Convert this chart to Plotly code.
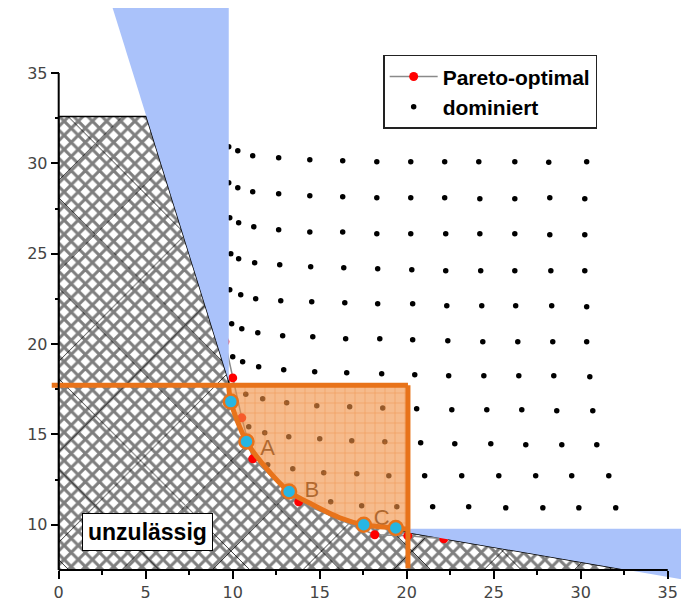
import plotly.graph_objects as go

# ---------------- data ----------------
x_ticks = [0, 5, 10, 15, 20, 25, 30, 35]
y_ticks = [10, 15, 20, 25, 30, 35]
x_minor = [2.5, 7.5, 12.5, 17.5, 22.5, 27.5, 32.5]
y_minor = [12.5, 17.5, 22.5, 27.5, 32.5]

# dominated solutions (row by row)
dom_x_rows = [
    [9.77, 10.29, 11.15, 12.64, 14.43, 16.32, 18.28, 20.23, 22.18, 24.14, 26.21, 28.16, 30.34],
    [9.77, 10.29, 11.15, 12.64, 14.43, 16.32, 18.28, 20.23, 22.18, 24.20, 26.21, 28.22, 30.23],
    [9.83, 10.34, 11.21, 12.64, 14.43, 16.32, 18.28, 20.23, 22.24, 24.20, 26.21, 28.22, 30.23],
    [9.89, 10.34, 11.26, 12.70, 14.48, 16.38, 18.33, 20.29, 22.24, 24.25, 26.21, 28.28, 30.23],
    [9.83, 10.46, 11.32, 12.76, 14.54, 16.44, 18.33, 20.34, 22.30, 24.31, 26.26, 28.33, 30.34],
    [9.94, 10.52, 11.44, 12.87, 14.60, 16.49, 18.45, 20.34, 22.36, 24.37, 26.38, 28.39, 30.34],
    [10.00, 10.57, 11.49, 12.93, 14.71, 16.55, 18.56, 20.46, 22.41, 24.43, 26.44, 28.45, 30.52],
    [10.75, 11.72, 13.10, 14.83, 16.72, 18.62, 20.57, 22.59, 24.60, 26.61, 28.62, 30.69],
    [10.92, 11.84, 13.22, 15.00, 16.84, 18.74, 20.80, 22.76, 24.83, 26.84, 28.91, 30.92],
    [12.01, 13.45, 15.23, 17.13, 18.97, 21.03, 23.16, 25.29, 27.41, 29.48, 31.61],
    [15.63, 17.41, 19.43, 21.49, 23.56, 25.69, 27.82, 29.89, 32.01],
]
dom_y_rows = [
    [30.92, 30.70, 30.42, 30.31, 30.20, 30.14, 30.09, 30.09, 30.09, 30.09, 30.09, 30.06, 30.09],
    [28.93, 28.65, 28.43, 28.32, 28.21, 28.15, 28.10, 28.10, 28.10, 28.04, 28.04, 28.10, 28.04],
    [26.99, 26.71, 26.49, 26.33, 26.21, 26.21, 26.10, 26.10, 26.10, 26.10, 26.10, 26.05, 26.05],
    [25.00, 24.72, 24.50, 24.39, 24.28, 24.22, 24.17, 24.11, 24.06, 24.06, 24.06, 24.06, 24.06],
    [23.01, 22.73, 22.51, 22.40, 22.34, 22.29, 22.23, 22.23, 22.12, 22.12, 22.12, 22.12, 22.06],
    [21.12, 20.85, 20.63, 20.46, 20.40, 20.29, 20.29, 20.24, 20.18, 20.13, 20.13, 20.13, 20.13],
    [19.30, 19.02, 18.74, 18.58, 18.47, 18.41, 18.36, 18.30, 18.25, 18.25, 18.25, 18.25, 18.19],
    [17.22, 16.97, 16.75, 16.59, 16.53, 16.47, 16.42, 16.36, 16.36, 16.36, 16.31, 16.31],
    [15.42, 15.09, 14.87, 14.76, 14.65, 14.59, 14.54, 14.48, 14.48, 14.43, 14.43, 14.43],
    [13.32, 13.10, 12.88, 12.82, 12.71, 12.71, 12.71, 12.71, 12.71, 12.71, 12.71],
    [11.27, 11.05, 11.00, 11.00, 11.00, 10.94, 10.94, 10.94, 10.94],
]

# Pareto-optimal solutions
pareto_x = [9.55, 10.00, 10.52, 11.15, 13.79, 18.16, 20.06, 22.13]
pareto_y = [20.13, 18.13, 15.92, 13.65, 11.27, 9.45, 9.39, 9.23]

# approximated front (orange curve) and its support points (cyan)
front_x = [9.77, 9.89, 10.79, 11.67, 13.24, 14.60, 16.15, 17.53, 19.37, 20.07]
front_y = [17.72, 16.82, 14.61, 13.43, 11.84, 11.11, 10.39, 10.00, 9.82, 9.75]
support_x = [9.89, 10.79, 13.24, 17.53, 19.37]
support_y = [16.82, 14.61, 11.84, 10.00, 9.82]

# reference (nadir) point of the orange box
ref_x = 20.07
ref_y = 17.72

# infeasible region outline
infeas_x = [0, 0, 5.04, 9.77] + front_x[1:-1] + [20.17, 22.13, 32.65]
infeas_y = [7.5, 32.6, 32.6, 17.96] + front_y[1:-1] + [9.56, 9.23, 7.5]

# blue wedges
wedge1_x = [3.10, 9.77, 9.77]
wedge1_y = [38.6, 38.6, 17.96]
wedge2_x = [20.20, 35.76, 35.76, 20.17]
wedge2_y = [9.78, 9.78, 6.99, 9.56]

# point labels
lab_text = ["A", "B", "C"]
lab_x = [12.01, 14.54, 18.56]
lab_y = [14.15, 11.83, 10.28]

# ---------------- figure ----------------
ORANGE = "#E8731A"
BLUE = "#AAC2FA"
CYAN = "#27B6E3"
FONT = "Liberation Sans"
TICKFONT = "DejaVu Sans"

fig = go.Figure()

# dominated points
dx = [v for r in dom_x_rows for v in r]
dy = [v for r in dom_y_rows for v in r]
fig.add_trace(go.Scatter(
    x=dx, y=dy, mode="markers", name="dominiert",
    marker=dict(size=5.5, color="black"),
    legendrank=2))

# infeasible hatched region (fine cross hatch)
fig.add_trace(go.Scatter(
    x=infeas_x, y=infeas_y, mode="lines", fill="toself",
    fillcolor="white", line=dict(color="black", width=1.5),
    fillpattern=dict(shape="x", size=10, solidity=0.52, fgcolor="black",
                     bgcolor="white"),
    showlegend=False, hoverinfo="skip"))
# coarse darker diagonals seen over the hatch
fig.add_trace(go.Scatter(
    x=infeas_x, y=infeas_y, mode="lines", fill="toself",
    fillcolor="rgba(0,0,0,0)", line=dict(width=0),
    fillpattern=dict(shape="x", size=64, solidity=0.03, fgcolor="black",
                     fgopacity=0.8, bgcolor="rgba(0,0,0,0)"),
    showlegend=False, hoverinfo="skip"))

# Pareto-optimal
fig.add_trace(go.Scatter(
    x=pareto_x, y=pareto_y, mode="lines+markers", name="Pareto-optimal",
    line=dict(color="#8a8a8a", width=1.5),
    marker=dict(size=9, color="#FF0000"),
    legendrank=1))

# blue wedges
for wx, wy in [(wedge1_x, wedge1_y), (wedge2_x, wedge2_y)]:
    fig.add_trace(go.Scatter(
        x=wx, y=wy, mode="lines", fill="toself", fillcolor=BLUE,
        line=dict(width=0, color=BLUE), showlegend=False, hoverinfo="skip"))

# labels (under the translucent box)
fig.add_trace(go.Scatter(
    x=lab_x, y=lab_y, mode="text", text=lab_text,
    textfont=dict(family=FONT, size=22, color="#3a2410"),
    showlegend=False, hoverinfo="skip"))

# orange box
box_x = [front_x[0], ref_x, ref_x] + front_x[::-1][1:]
box_y = [ref_y, ref_y, front_y[-1]] + front_y[::-1][1:]
fig.add_trace(go.Scatter(
    x=box_x, y=box_y, mode="lines", fill="toself",
    fillcolor="rgba(240,145,70,0.62)", line=dict(width=0),
    fillpattern=dict(shape="+", size=10, solidity=0.1, fgcolor=ORANGE,
                     fillmode="overlay"),
    showlegend=False, hoverinfo="skip"))

# orange curve
fig.add_trace(go.Scatter(
    x=front_x, y=front_y, mode="lines", line=dict(color=ORANGE, width=5, shape="spline"),
    showlegend=False, hoverinfo="skip"))
fig.add_trace(go.Scatter(
    x=support_x, y=support_y, mode="markers",
    marker=dict(size=14, color=CYAN, line=dict(color=ORANGE, width=2.5)),
    showlegend=False, hoverinfo="skip"))

# orange box edges
fig.add_shape(type="line", xref="x", yref="y", x0=-0.4, x1=ref_x, y0=ref_y, y1=ref_y,
              line=dict(color=ORANGE, width=5), layer="above")
fig.add_shape(type="line", xref="x", yref="y", x0=ref_x, x1=ref_x, y0=ref_y, y1=7.6,
              line=dict(color=ORANGE, width=5), layer="above")

# axis lines
fig.add_shape(type="line", xref="x", yref="y", x0=0, x1=0, y0=7.5, y1=35,
              line=dict(color="black", width=2), layer="above")
fig.add_shape(type="line", xref="x", yref="y", x0=0, x1=35, y0=7.5, y1=7.5,
              line=dict(color="black", width=2), layer="above")

fig.add_annotation(x=5.13, y=9.61, xref="x", yref="y", text="unzulässig",
                   showarrow=False, bgcolor="white", bordercolor="black",
                   borderwidth=1, borderpad=5,
                   font=dict(family=FONT, size=23, color="black", weight="bold"))

xr = [-0.5, 35.76]
yr = [7.0, 38.6]
fig.update_layout(
    width=681, height=606,
    margin=dict(l=50, r=0, t=8, b=27),
    plot_bgcolor="white", paper_bgcolor="white",
    showlegend=True,
    legend=dict(x=0.528, y=0.918, xanchor="left", yanchor="top",
                bgcolor="white", bordercolor="#222", borderwidth=1.5,
                font=dict(family=FONT, size=21, color="black", weight="bold"),
                itemwidth=48),
    xaxis=dict(range=xr, showgrid=False, zeroline=False, showline=False,
               anchor="free", position=(7.5 - yr[0]) / (yr[1] - yr[0]),
               tickmode="array", tickvals=x_ticks, ticks="outside", ticklen=8,
               tickwidth=1.5, tickcolor="black",
               tickfont=dict(family=TICKFONT, size=16, color="#444"),
               minor=dict(tickmode="array", tickvals=x_minor, ticks="outside",
                          ticklen=4, tickwidth=1.5, tickcolor="black")),
    yaxis=dict(range=yr, showgrid=False, zeroline=False, showline=False,
               anchor="free", position=(0 - xr[0]) / (xr[1] - xr[0]),
               tickmode="array", tickvals=y_ticks, ticks="outside", ticklen=8,
               tickwidth=1.5, tickcolor="black",
               tickfont=dict(family=TICKFONT, size=16, color="#444"),
               minor=dict(tickmode="array", tickvals=y_minor, ticks="outside",
                          ticklen=4, tickwidth=1.5, tickcolor="black")),
)

fig.write_html("out.html", config={"displayModeBar": False},
               post_script="document.body.style.margin='0';document.body.style.overflow='hidden';")
